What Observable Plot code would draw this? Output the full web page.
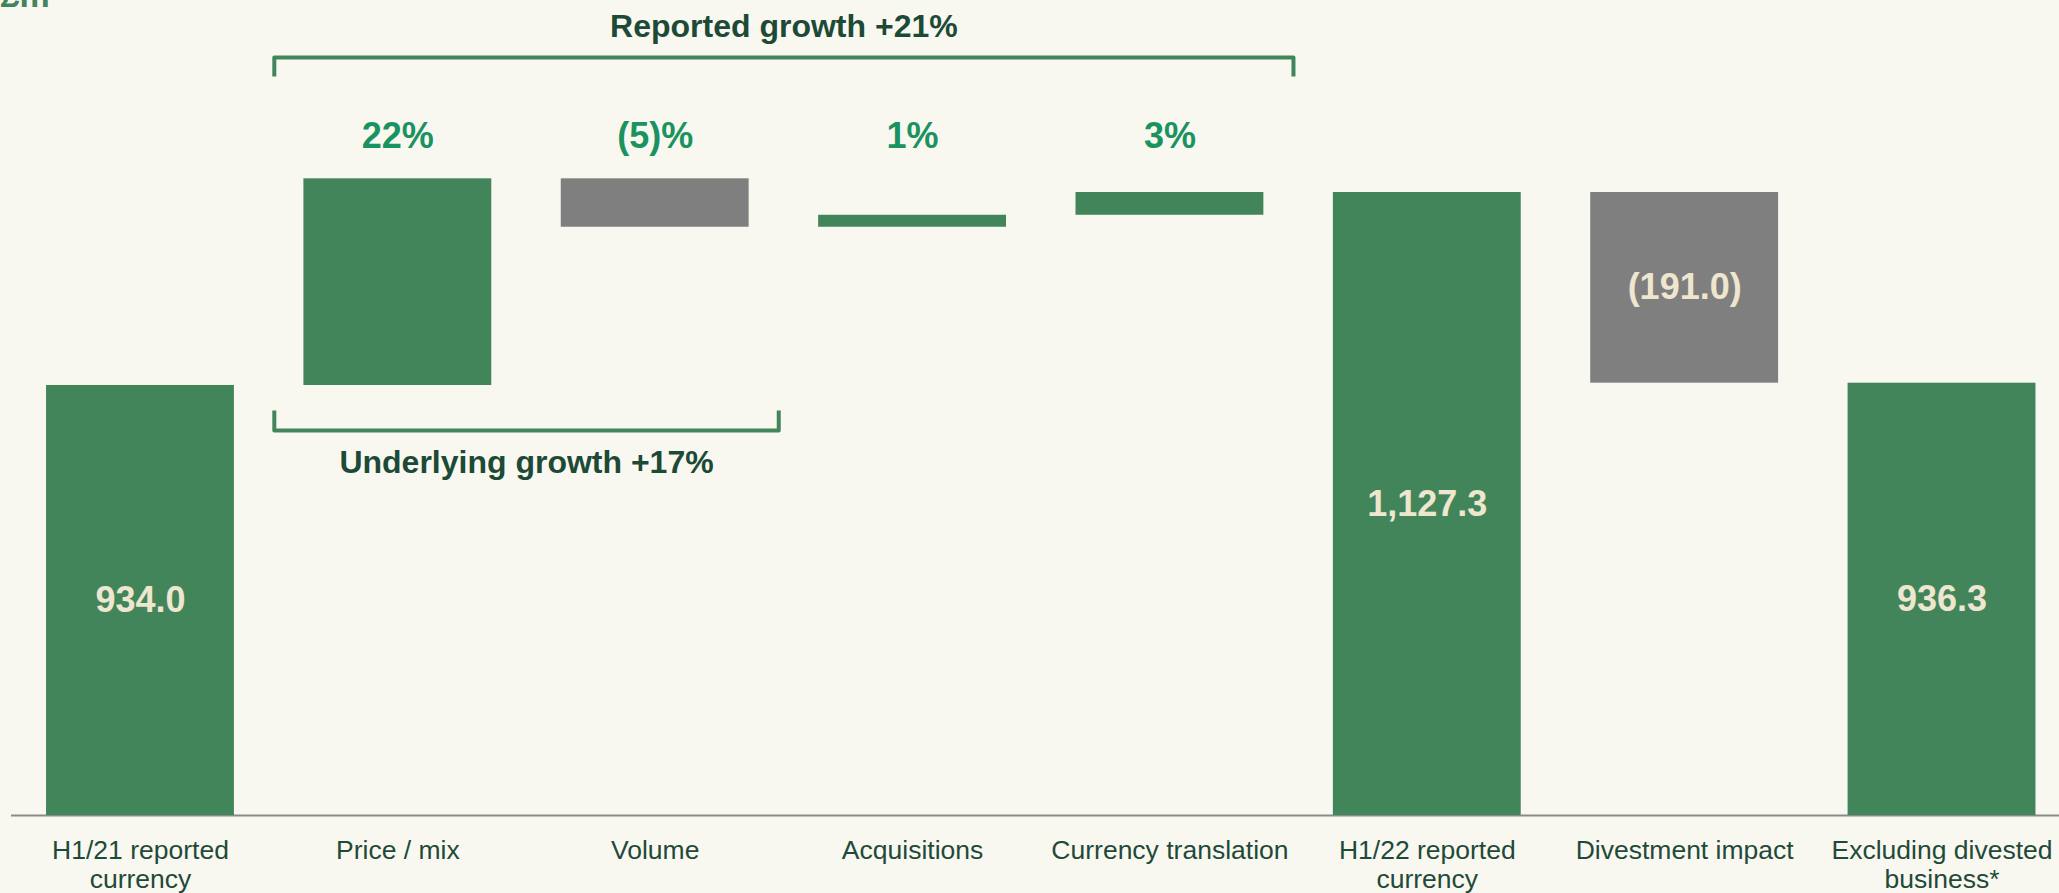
<!DOCTYPE html>
<html>
<head>
<meta charset="utf-8">
<script src="https://cdn.jsdelivr.net/npm/d3@7"></script>
<script src="https://cdn.jsdelivr.net/npm/@observablehq/plot@0.6"></script>
<style>
  html, body { margin: 0; padding: 0; background: #f9f8f0; }
  #chart { width: 2059px; height: 893px; overflow: hidden; }
  #chart svg { display: block; }
</style>
</head>
<body>
<div id="chart"></div>
<script>
// ---- Data ----
const categories = [
  "H1/21 reported\ncurrency",
  "Price / mix",
  "Volume",
  "Acquisitions",
  "Currency translation",
  "H1/22 reported\ncurrency",
  "Divestment impact",
  "Excluding divested\nbusiness*"
];
const kinds = ["total", "step", "step", "step", "step", "total", "step", "total"];
const values = [934.0, 207.0, -48.5, 12.0, 22.8, 1127.3, -191.0, 936.3];
const pctLabels = [null, "22%", "(5)%", "1%", "3%", null, null, null];
const valueLabels = ["934.0", null, null, null, null, "1,127.3", "(191.0)", "936.3"];
const unitLabel = "£m";
const bracketLabels = ["Reported growth +21%", "Underlying growth +17%"];
const bracketFrom = [1, 1];
const bracketTo = [4, 2];
const bracketSide = ["above", "below"];

// ---- Styling ----
const GREEN = "#42855b", GREY = "#7f7f7f";
const font = "'Liberation Sans', Arial, Helvetica, sans-serif";

// broken value axis (waterfall starts well above zero)
const yFloor = 503.3, yTop = 1319.6;

// ---- Build waterfall rows ----
let running = 0;
const rows = categories.map((label, i) => {
  let y1, y2;
  if (kinds[i] === "total") { y1 = yFloor; y2 = values[i]; running = values[i]; }
  else { y1 = running; y2 = running + values[i]; running = y2; }
  const color = kinds[i] === "total" ? GREEN : (values[i] < 0 ? GREY : GREEN);
  return {i, label, y1, y2, color, pct: pctLabels[i], val: valueLabels[i]};
});

// ---- Brackets ----
const half = 0.48;
const maxTop = d3.max(rows, d => Math.max(d.y1, d.y2));
const bracketPts = [];
const bracketText = [];
bracketLabels.forEach((lab, k) => {
  const a = bracketFrom[k] - half, b = bracketTo[k] + half;
  let level, tip;
  if (bracketSide[k] === "above") { level = maxTop + 121.5; tip = level - 19; }
  else { level = rows[0].y2 - 45; tip = level + 20; }
  [[a, tip], [a, level], [b, level], [b, tip]].forEach(([x, y]) => bracketPts.push({id: k, x, y}));
  bracketText.push({x: (bracketFrom[k] + bracketTo[k]) / 2, y: level, label: lab,
    dy: bracketSide[k] === "above" ? -31 : 32});
});

const chart = Plot.plot({
  width: 2059,
  height: 893,
  marginLeft: 11,
  marginRight: 0,
  marginTop: 0,
  marginBottom: 78,
  style: {background: "transparent", fontFamily: font},
  x: {type: "linear", domain: [-0.5, 7.5], range: [11.3, 2070.2], axis: null},
  y: {domain: [yFloor, yTop], axis: null},
  color: {type: "identity"},
  marks: [
    Plot.ruleY([yFloor], {stroke: "#8a8a8a", strokeWidth: 2}),
    Plot.rect(rows, {
      x1: d => d.i - 0.365, x2: d => d.i + 0.365,
      y1: "y1", y2: "y2", fill: "color"
    }),
    Plot.text(rows.filter(d => d.val), {
      x: "i", y: d => (d.y1 + d.y2) / 2, text: "val",
      fill: "#efe6cf", fontSize: 36, fontWeight: "bold"
    }),
    Plot.text(rows.filter(d => d.pct), {
      x: "i", text: "pct", frameAnchor: "top", dy: 122,
      fill: "#1a9360", fontSize: 36, fontWeight: "bold"
    }),
    Plot.line(bracketPts, {
      x: "x", y: "y", z: "id", stroke: GREEN, strokeWidth: 4,
      strokeLinejoin: "round", strokeLinecap: "butt"
    }),
    ...bracketText.map(b => Plot.text([b], {
      x: "x", y: "y", text: "label", dy: b.dy,
      fill: "#1d4a36", fontSize: 32, fontWeight: "bold"
    })),
    Plot.text(rows, {
      x: "i", text: "label", frameAnchor: "bottom", dy: 23, lineAnchor: "top",
      lineHeight: 1.1, fill: "#1f4a3a", fontSize: 26.5
    }),
    Plot.text([unitLabel], {
      frameAnchor: "top-left", dx: -11, dy: 6, lineAnchor: "bottom", textAnchor: "start",
      text: d => d, fill: GREEN, fontSize: 34, fontWeight: "bold"
    })
  ]
});
document.getElementById("chart").appendChild(chart);
</script>
</body>
</html>
